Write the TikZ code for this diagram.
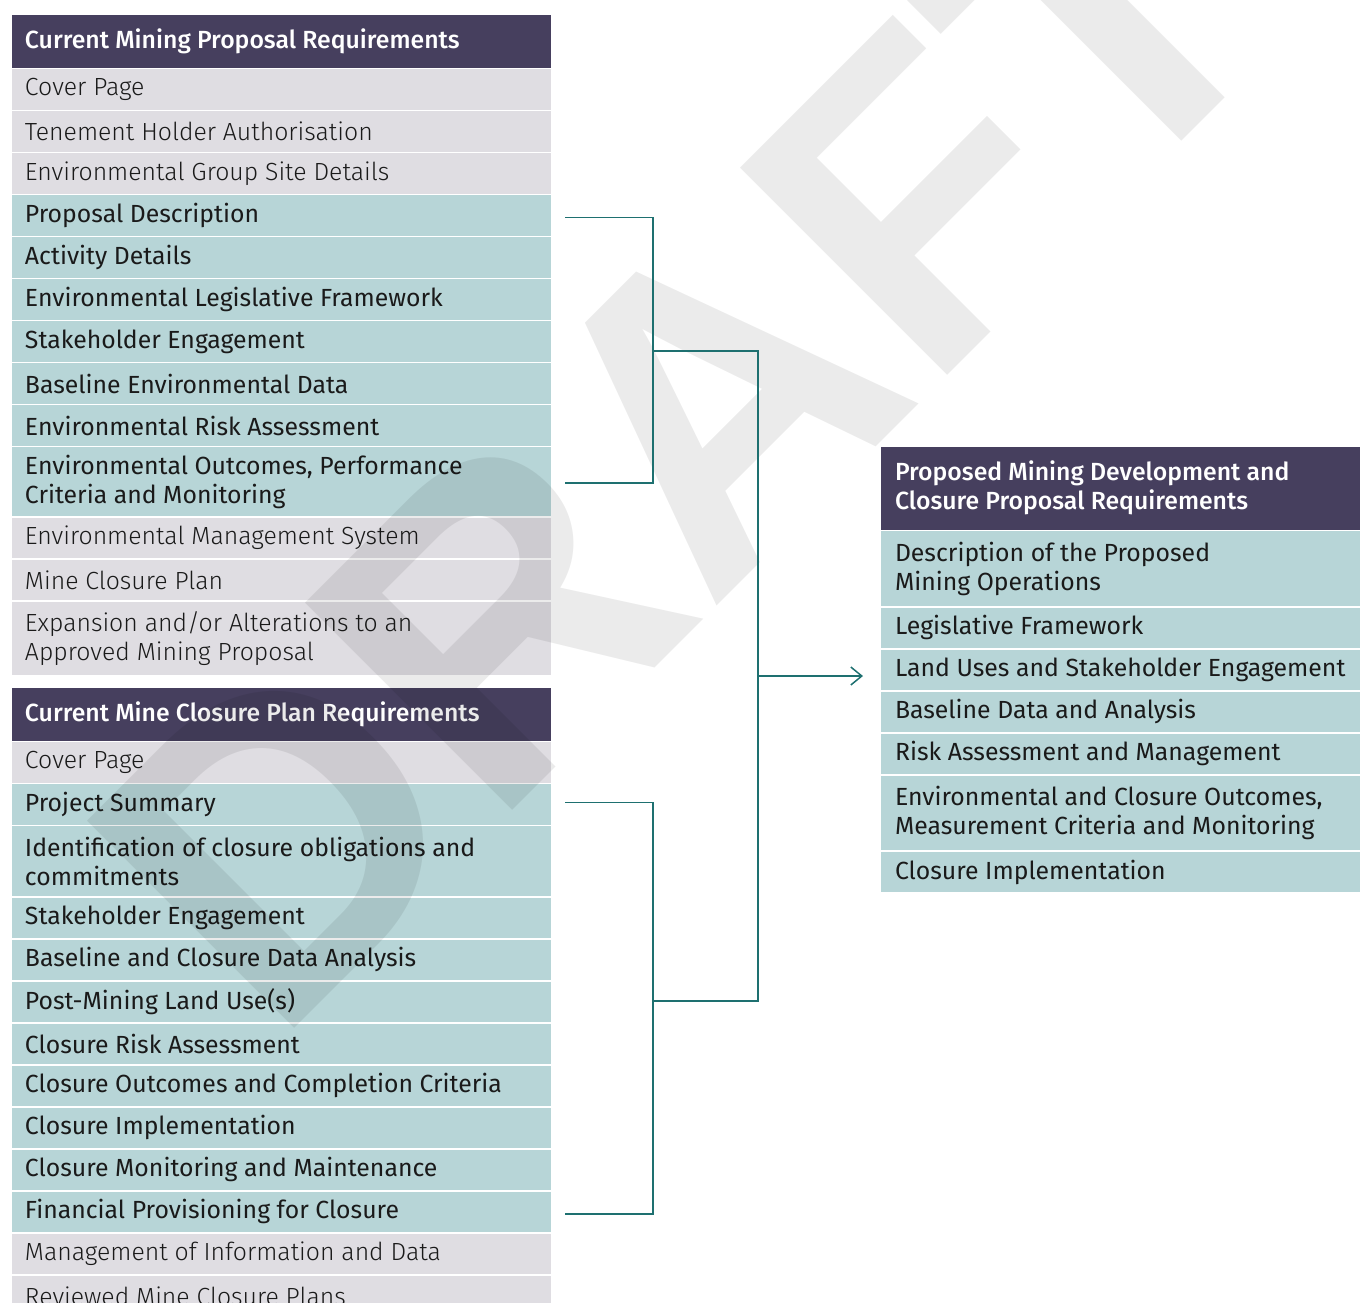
\documentclass[tikz,border=0pt]{standalone}
\usepackage{fontspec}
\setmainfont{Fira Sans}
\newfontfamily\lightfont{Fira Sans Light}
\newfontfamily\regfont{Fira Sans}
\newfontfamily\medfont{Fira Sans Medium}
\newfontfamily\wmfont{Liberation Sans}
\usetikzlibrary{shapes.multipart,arrows.meta}

\definecolor{hdrpurple}{RGB}{70,63,94}
\definecolor{rowgrey}{RGB}{223,221,226}
\definecolor{rowteal}{RGB}{183,213,215}
\definecolor{linkteal}{RGB}{30,112,112}
\definecolor{rowtext}{RGB}{26,26,26}

\newlength{\colw}
\newcommand{\cell}[2][20.85pt]{\parbox[c][#1][c]{\colw}{\raggedright\fontsize{12.4}{14.5}\selectfont #2}}
\newcommand{\hdcell}[2][26.5pt]{\cell[#1]{\medfont\color{white}#2}}
\newcommand{\grcell}[2][20.85pt]{\cell[\dimexpr#1-0.65pt\relax]{\lightfont\color{rowtext}#2}}
\newcommand{\tlcell}[2][20.85pt]{\cell[\dimexpr#1-0.65pt\relax]{\regfont\color{rowtext}#2}}

\begin{document}
\begin{tikzpicture}[
      x=0.5pt, y=-0.5pt,
      list/.style={rectangle split, rectangle split parts=14, draw=white, line width=0.8pt,
        inner xsep=7pt, inner ysep=0pt, outer sep=0pt, anchor=north west},
      link/.style={draw=linkteal, line width=0.75pt},
      >={Straight Barb[length=5.5pt,width=9pt]},
      watermark/.style={font=\wmfont\bfseries\fontsize{213}{213}\selectfont, text=black,
        text opacity=0.08, inner sep=0pt, rotate=45, anchor=base west}
      ]

      \useasboundingbox (0,0) rectangle (1360,1302);

      % current mining proposal
      \setlength{\colw}{256.5pt}
      \node[list, rectangle split part fill={hdrpurple,rowgrey,rowgrey,rowgrey,
          rowteal,rowteal,rowteal,rowteal,rowteal,rowteal,rowteal,rowgrey}] (mp) at (11,14) {
        \nodepart{one} \hdcell{Current Mining Proposal Requirements}
        \nodepart{two} \grcell{Cover Page}
        \nodepart{three} \grcell{Tenement Holder Authorisation}
        \nodepart{four} \grcell{Environmental Group Site Details}
        \nodepart{five} \tlcell{Proposal Description}
        \nodepart{six} \tlcell{Activity Details}
        \nodepart{seven} \tlcell{Environmental Legislative Framework}
        \nodepart{eight} \tlcell{Stakeholder Engagement}
        \nodepart{nine} \tlcell{Baseline Environmental Data}
        \nodepart{ten} \tlcell{Environmental Risk Assessment}
        \nodepart{eleven} \tlcell[35pt]{Environmental Outcomes, Performance\\Criteria and Monitoring}
        \nodepart{twelve} \grcell{Environmental Management System}
        \nodepart{thirteen} \grcell{Mine Closure Plan}
        \nodepart{fourteen} \grcell[37.5pt]{Expansion and/or Alterations to an\\Approved Mining Proposal}
      };

      % current mine closure plan
      \node[list, rectangle split part fill={hdrpurple,rowgrey,
          rowteal,rowteal,rowteal,rowteal,rowteal,rowteal,rowteal,rowteal,rowteal,rowteal,
          rowgrey}] (mc) at (11,687) {
        \nodepart{one} \hdcell{Current Mine Closure Plan Requirements}
        \nodepart{two} \grcell{Cover Page}
        \nodepart{three} \tlcell{Project Summary}
        \nodepart{four} \tlcell[35.5pt]{Identification of closure obligations and\\commitments}
        \nodepart{five} \tlcell{Stakeholder Engagement}
        \nodepart{six} \tlcell{Baseline and Closure Data Analysis}
        \nodepart{seven} \tlcell{Post-Mining Land Use(s)}
        \nodepart{eight} \tlcell{Closure Risk Assessment}
        \nodepart{nine} \tlcell{Closure Outcomes and Completion Criteria}
        \nodepart{ten} \tlcell{Closure Implementation}
        \nodepart{eleven} \tlcell{Closure Monitoring and Maintenance}
        \nodepart{twelve} \tlcell{Financial Provisioning for Closure}
        \nodepart{thirteen} \grcell{Management of Information and Data}
        \nodepart{fourteen} \grcell{Reviewed Mine Closure Plans}
      };

      % proposed requirements
      \setlength{\colw}{235pt}
      \node[list, rectangle split parts=8, inner xsep=7.5pt,
          rectangle split part fill={hdrpurple,rowteal}] (pm) at (880,446) {
        \nodepart{one} \hdcell[41.5pt]{Proposed Mining Development and\\Closure Proposal Requirements}
        \nodepart{two} \tlcell[38pt]{Description of the Proposed\\Mining Operations}
        \nodepart{three} \tlcell{Legislative Framework}
        \nodepart{four} \tlcell{Land Uses and Stakeholder Engagement}
        \nodepart{five} \tlcell{Baseline Data and Analysis}
        \nodepart{six} \tlcell{Risk Assessment and Management}
        \nodepart{seven} \tlcell[38pt]{Environmental and Closure Outcomes,\\Measurement Criteria and Monitoring}
        \nodepart{eight} \tlcell{Closure Implementation}
      };

      \node[watermark] (draft) at (274.5,1048.5) {DRAFT};

      \coordinate (mpjoin) at (653,351);
      \coordinate (mcjoin) at (653,1001);
      \coordinate (hub) at (758,676);

      %brackets
      \draw[link] ([xshift=6.5pt,yshift=-1pt]mp.five east) -| (mpjoin) |- ([xshift=6.5pt,yshift=-0.5pt]mp.eleven east);
      \draw[link] ([xshift=6.5pt,yshift=1pt]mc.three east) -| (mcjoin) |- ([xshift=6.5pt,yshift=-1pt]mc.twelve east);

      %into the new requirements
      \draw[link] (mpjoin) -| (hub);
      \draw[link] (mcjoin) -| (hub);
      \draw[link, ->, shorten >=8.5pt] (hub) -- (hub -| pm.west);
    \end{tikzpicture}
\end{document}
